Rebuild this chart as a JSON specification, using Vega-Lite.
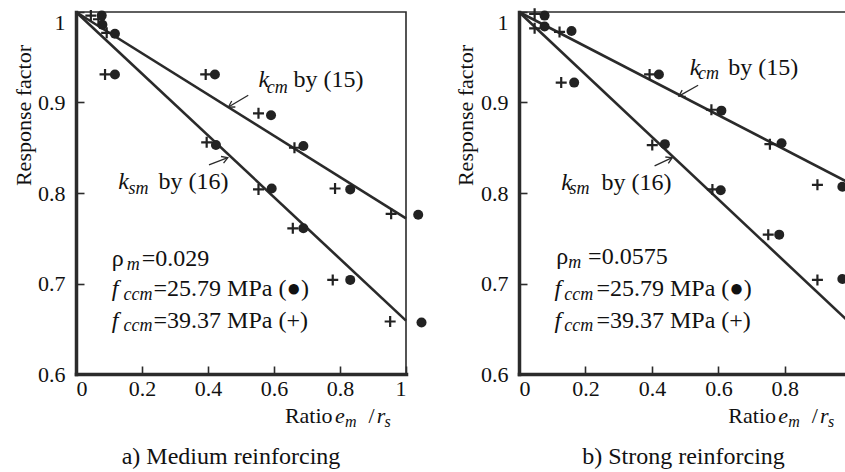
{
  "$schema": "https://vega.github.io/schema/vega-lite/v6.json",
  "background": "white",
  "padding": {"left": 11, "top": 3, "right": 0, "bottom": 0},
  "spacing": 113,
  "bounds": "flush",
  "hconcat": [
    {
      "width": 330,
      "height": 362,
      "title": {"text": "a) Medium reinforcing", "orient": "bottom", "anchor": "middle", "offset": 34, "baseline": "alphabetic", "dx": -10},
      "encoding": {
        "x": {"field": "x", "type": "quantitative", "scale": {"domain": [0, 1], "nice": false, "zero": false}, "axis": {"values": [0, 0.2, 0.4, 0.6, 0.8, 1], "format": "~g", "title": null}},
        "y": {"field": "y", "type": "quantitative", "scale": {"domain": [0.6, 1], "nice": false, "zero": false}, "axis": {"values": [0.6, 0.7, 0.8, 0.9, 1], "format": "~g", "title": "Response factor", "titleX": -53, "titleY": 103, "titleAngle": -90, "titleAlign": "center", "titleBaseline": "middle", "labelBaseline": {"condition": {"test": "datum.value >= 1", "value": "top"}, "value": "middle"}}}
      },
      "layer": [
        {
          "data": {"values": [{"c": "kcm", "x": 0, "y": 1}, {"c": "kcm", "x": 1, "y": 0.772}, {"c": "ksm", "x": 0, "y": 1}, {"c": "ksm", "x": 1, "y": 0.659}]},
          "mark": {"type": "line", "color": "#2a2a2a", "strokeWidth": 2.6},
          "encoding": {"detail": {"field": "c"}}
        },
        {
          "data": {"values": [{"x": 0.078, "y": 0.996}, {"x": 0.080, "y": 0.986}, {"x": 0.118, "y": 0.976}, {"x": 0.118, "y": 0.931}, {"x": 0.421, "y": 0.931}, {"x": 0.591, "y": 0.886}, {"x": 0.689, "y": 0.852}, {"x": 0.424, "y": 0.853}, {"x": 0.593, "y": 0.805}, {"x": 0.831, "y": 0.804}, {"x": 1.037, "y": 0.776}, {"x": 0.689, "y": 0.761}, {"x": 0.831, "y": 0.704}, {"x": 1.047, "y": 0.657}]},
          "mark": {"type": "point", "shape": "circle", "filled": true, "size": 100, "color": "#222", "opacity": 1}
        },
        {
          "data": {"values": [{"x": 0.045, "y": 0.996}, {"x": 0.068, "y": 0.992}, {"x": 0.093, "y": 0.977}, {"x": 0.088, "y": 0.931}, {"x": 0.393, "y": 0.931}, {"x": 0.553, "y": 0.888}, {"x": 0.662, "y": 0.850}, {"x": 0.396, "y": 0.856}, {"x": 0.553, "y": 0.804}, {"x": 0.785, "y": 0.805}, {"x": 0.955, "y": 0.777}, {"x": 0.657, "y": 0.761}, {"x": 0.778, "y": 0.704}, {"x": 0.952, "y": 0.658}]},
          "mark": {"type": "point", "shape": "M-1,0H1M0,-1V1", "filled": false, "size": 121, "strokeWidth": 2.2, "color": "#222", "opacity": 1}
        },
        {
          "data": {"values": [{"x": 0.522, "y": 0.908, "x2": 0.462, "y2": 0.895}, {"x": 0.403, "y": 0.831, "x2": 0.460, "y2": 0.839}]},
          "mark": {"type": "rule", "color": "#2a2a2a", "strokeWidth": 1.3},
          "encoding": {"x2": {"field": "x2"}, "y2": {"field": "y2"}}
        },
        {
          "data": {"values": [{"x": 0.462, "y": 0.895}]},
          "mark": {"type": "point", "shape": "M-1,-0.6L0,0L-1,0.6", "filled": false, "size": 140, "strokeWidth": 1.3, "color": "#2a2a2a", "opacity": 1, "angle": 149}
        },
        {
          "data": {"values": [{"x": 0.460, "y": 0.839}]},
          "mark": {"type": "point", "shape": "M-1,-0.6L0,0L-1,0.6", "filled": false, "size": 140, "strokeWidth": 1.3, "color": "#2a2a2a", "opacity": 1, "angle": 339}
        },
        {
          "data": {"values": [{"x": 0.659, "y": 0.917, "t": "by (15)"}, {"x": 0.250, "y": 0.804, "t": "by (16)"}, {"x": 0.108, "y": 0.719, "t": "ρ"}, {"x": 0.199, "y": 0.719, "t": "=0.029"}, {"x": 0.235, "y": 0.686, "t": "=25.79 MPa (●)"}, {"x": 0.235, "y": 0.651, "t": "=39.37 MPa (+)"}]},
          "mark": {"type": "text", "align": "left", "baseline": "alphabetic", "fontSize": 24, "color": "#111", "font": "Liberation Serif"},
          "encoding": {"text": {"field": "t"}}
        },
        {
          "data": {"values": [{"x": 0.553, "y": 0.917, "t": "k"}, {"x": 0.128, "y": 0.804, "t": "k"}, {"x": 0.108, "y": 0.686, "t": "f"}, {"x": 0.108, "y": 0.651, "t": "f"}]},
          "mark": {"type": "text", "align": "left", "baseline": "alphabetic", "fontStyle": "italic", "fontSize": 24, "color": "#111", "font": "Liberation Serif"},
          "encoding": {"text": {"field": "t"}}
        },
        {
          "data": {"values": [{"x": 0.578, "y": 0.910, "t": "cm"}, {"x": 0.159, "y": 0.799, "t": "sm"}, {"x": 0.154, "y": 0.715, "t": "m"}, {"x": 0.144, "y": 0.682, "t": "ccm"}, {"x": 0.144, "y": 0.647, "t": "ccm"}]},
          "mark": {"type": "text", "align": "left", "baseline": "alphabetic", "fontStyle": "italic", "fontSize": 18, "color": "#111", "font": "Liberation Serif"},
          "encoding": {"text": {"field": "t"}}
        },
        {
          "data": {"values": [{"x": 0.633, "y": 0.546, "t": "Ratio"}, {"x": 0.886, "y": 0.546, "t": "/"}]},
          "mark": {"type": "text", "align": "left", "baseline": "alphabetic", "fontSize": 22, "color": "#111", "font": "Liberation Serif"},
          "encoding": {"text": {"field": "t"}}
        },
        {
          "data": {"values": [{"x": 0.785, "y": 0.546, "t": "e"}, {"x": 0.911, "y": 0.546, "t": "r"}]},
          "mark": {"type": "text", "align": "left", "baseline": "alphabetic", "fontStyle": "italic", "fontSize": 22, "color": "#111", "font": "Liberation Serif"},
          "encoding": {"text": {"field": "t"}}
        },
        {
          "data": {"values": [{"x": 0.815, "y": 0.541, "t": "m"}, {"x": 0.935, "y": 0.541, "t": "s"}]},
          "mark": {"type": "text", "align": "left", "baseline": "alphabetic", "fontStyle": "italic", "fontSize": 16, "color": "#111", "font": "Liberation Serif"},
          "encoding": {"text": {"field": "t"}}
        }
      ]
    },
    {
      "width": 329,
      "height": 362,
      "title": {"text": "b) Strong reinforcing", "orient": "bottom", "anchor": "middle", "offset": 34, "baseline": "alphabetic"},
      "encoding": {
        "x": {"field": "x", "type": "quantitative", "scale": {"domain": [0, 0.99], "nice": false, "zero": false}, "axis": {"values": [0, 0.2, 0.4, 0.6, 0.8], "format": "~g", "title": null}},
        "y": {"field": "y", "type": "quantitative", "scale": {"domain": [0.6, 1], "nice": false, "zero": false}, "axis": {"values": [0.6, 0.7, 0.8, 0.9, 1], "format": "~g", "title": "Response factor", "titleX": -54, "titleY": 103, "titleAngle": -90, "titleAlign": "center", "titleBaseline": "middle", "labelBaseline": {"condition": {"test": "datum.value >= 1", "value": "top"}, "value": "middle"}}}
      },
      "layer": [
        {
          "data": {"values": [{"c": "kcm", "x": 0, "y": 1}, {"c": "kcm", "x": 1, "y": 0.810}, {"c": "ksm", "x": 0, "y": 1}, {"c": "ksm", "x": 1, "y": 0.655}]},
          "mark": {"type": "line", "color": "#2a2a2a", "strokeWidth": 2.6},
          "encoding": {"detail": {"field": "c"}}
        },
        {
          "data": {"values": [{"x": 0.077, "y": 0.996}, {"x": 0.077, "y": 0.984}, {"x": 0.158, "y": 0.979}, {"x": 0.166, "y": 0.922}, {"x": 0.421, "y": 0.931}, {"x": 0.609, "y": 0.891}, {"x": 0.790, "y": 0.855}, {"x": 0.439, "y": 0.854}, {"x": 0.607, "y": 0.803}, {"x": 0.973, "y": 0.807}, {"x": 0.783, "y": 0.754}, {"x": 0.973, "y": 0.705}]},
          "mark": {"type": "point", "shape": "circle", "filled": true, "size": 100, "color": "#222", "opacity": 1}
        },
        {
          "data": {"values": [{"x": 0.047, "y": 0.998}, {"x": 0.047, "y": 0.982}, {"x": 0.122, "y": 0.978}, {"x": 0.127, "y": 0.922}, {"x": 0.393, "y": 0.931}, {"x": 0.579, "y": 0.892}, {"x": 0.755, "y": 0.854}, {"x": 0.401, "y": 0.853}, {"x": 0.582, "y": 0.804}, {"x": 0.898, "y": 0.809}, {"x": 0.750, "y": 0.754}, {"x": 0.898, "y": 0.704}]},
          "mark": {"type": "point", "shape": "M-1,0H1M0,-1V1", "filled": false, "size": 121, "strokeWidth": 2.2, "color": "#222", "opacity": 1}
        },
        {
          "data": {"values": [{"x": 0.539, "y": 0.919, "x2": 0.481, "y2": 0.907}, {"x": 0.408, "y": 0.830, "x2": 0.461, "y2": 0.839}]},
          "mark": {"type": "rule", "color": "#2a2a2a", "strokeWidth": 1.3},
          "encoding": {"x2": {"field": "x2"}, "y2": {"field": "y2"}}
        },
        {
          "data": {"values": [{"x": 0.481, "y": 0.907}]},
          "mark": {"type": "point", "shape": "M-1,-0.6L0,0L-1,0.6", "filled": false, "size": 140, "strokeWidth": 1.3, "color": "#2a2a2a", "opacity": 1, "angle": 150}
        },
        {
          "data": {"values": [{"x": 0.461, "y": 0.839}]},
          "mark": {"type": "point", "shape": "M-1,-0.6L0,0L-1,0.6", "filled": false, "size": 140, "strokeWidth": 1.3, "color": "#2a2a2a", "opacity": 1, "angle": 335}
        },
        {
          "data": {"values": [{"x": 0.630, "y": 0.930, "t": "by (15)"}, {"x": 0.248, "y": 0.803, "t": "by (16)"}, {"x": 0.112, "y": 0.721, "t": "ρ"}, {"x": 0.208, "y": 0.721, "t": "=0.0575"}, {"x": 0.233, "y": 0.686, "t": "=25.79 MPa (●)"}, {"x": 0.233, "y": 0.651, "t": "=39.37 MPa (+)"}]},
          "mark": {"type": "text", "align": "left", "baseline": "alphabetic", "fontSize": 24, "color": "#111", "font": "Liberation Serif"},
          "encoding": {"text": {"field": "t"}}
        },
        {
          "data": {"values": [{"x": 0.514, "y": 0.930, "t": "k"}, {"x": 0.127, "y": 0.803, "t": "k"}, {"x": 0.107, "y": 0.686, "t": "f"}, {"x": 0.107, "y": 0.651, "t": "f"}]},
          "mark": {"type": "text", "align": "left", "baseline": "alphabetic", "fontStyle": "italic", "fontSize": 24, "color": "#111", "font": "Liberation Serif"},
          "encoding": {"text": {"field": "t"}}
        },
        {
          "data": {"values": [{"x": 0.539, "y": 0.926, "t": "cm"}, {"x": 0.152, "y": 0.799, "t": "sm"}, {"x": 0.148, "y": 0.717, "t": "m"}, {"x": 0.136, "y": 0.682, "t": "ccm"}, {"x": 0.136, "y": 0.647, "t": "ccm"}]},
          "mark": {"type": "text", "align": "left", "baseline": "alphabetic", "fontStyle": "italic", "fontSize": 18, "color": "#111", "font": "Liberation Serif"},
          "encoding": {"text": {"field": "t"}}
        },
        {
          "data": {"values": [{"x": 0.630, "y": 0.546, "t": "Ratio"}, {"x": 0.881, "y": 0.546, "t": "/"}]},
          "mark": {"type": "text", "align": "left", "baseline": "alphabetic", "fontSize": 22, "color": "#111", "font": "Liberation Serif"},
          "encoding": {"text": {"field": "t"}}
        },
        {
          "data": {"values": [{"x": 0.780, "y": 0.546, "t": "e"}, {"x": 0.906, "y": 0.546, "t": "r"}]},
          "mark": {"type": "text", "align": "left", "baseline": "alphabetic", "fontStyle": "italic", "fontSize": 22, "color": "#111", "font": "Liberation Serif"},
          "encoding": {"text": {"field": "t"}}
        },
        {
          "data": {"values": [{"x": 0.810, "y": 0.541, "t": "m"}, {"x": 0.930, "y": 0.541, "t": "s"}]},
          "mark": {"type": "text", "align": "left", "baseline": "alphabetic", "fontStyle": "italic", "fontSize": 16, "color": "#111", "font": "Liberation Serif"},
          "encoding": {"text": {"field": "t"}}
        }
      ]
    }
  ],
  "config": {
    "font": "Liberation Serif",
    "view": {"stroke": "#2b2b2b", "strokeWidth": 1.6},
    "title": {"font": "Liberation Serif", "fontSize": 24, "fontWeight": "normal", "color": "#111"},
    "axis": {"domainColor": "#2b2b2b", "domainWidth": 3.5, "domainCap": "square", "ticks": true, "tickColor": "#2b2b2b", "tickWidth": 1.6, "tickSize": -8, "labelFont": "Liberation Serif", "labelFontSize": 22, "labelColor": "#111", "grid": false, "titleFont": "Liberation Serif", "titleFontSize": 22, "titleFontWeight": "normal", "titleColor": "#111"},
    "axisY": {"labelPadding": 19},
    "axisX": {"labelPadding": 12}
  }
}
